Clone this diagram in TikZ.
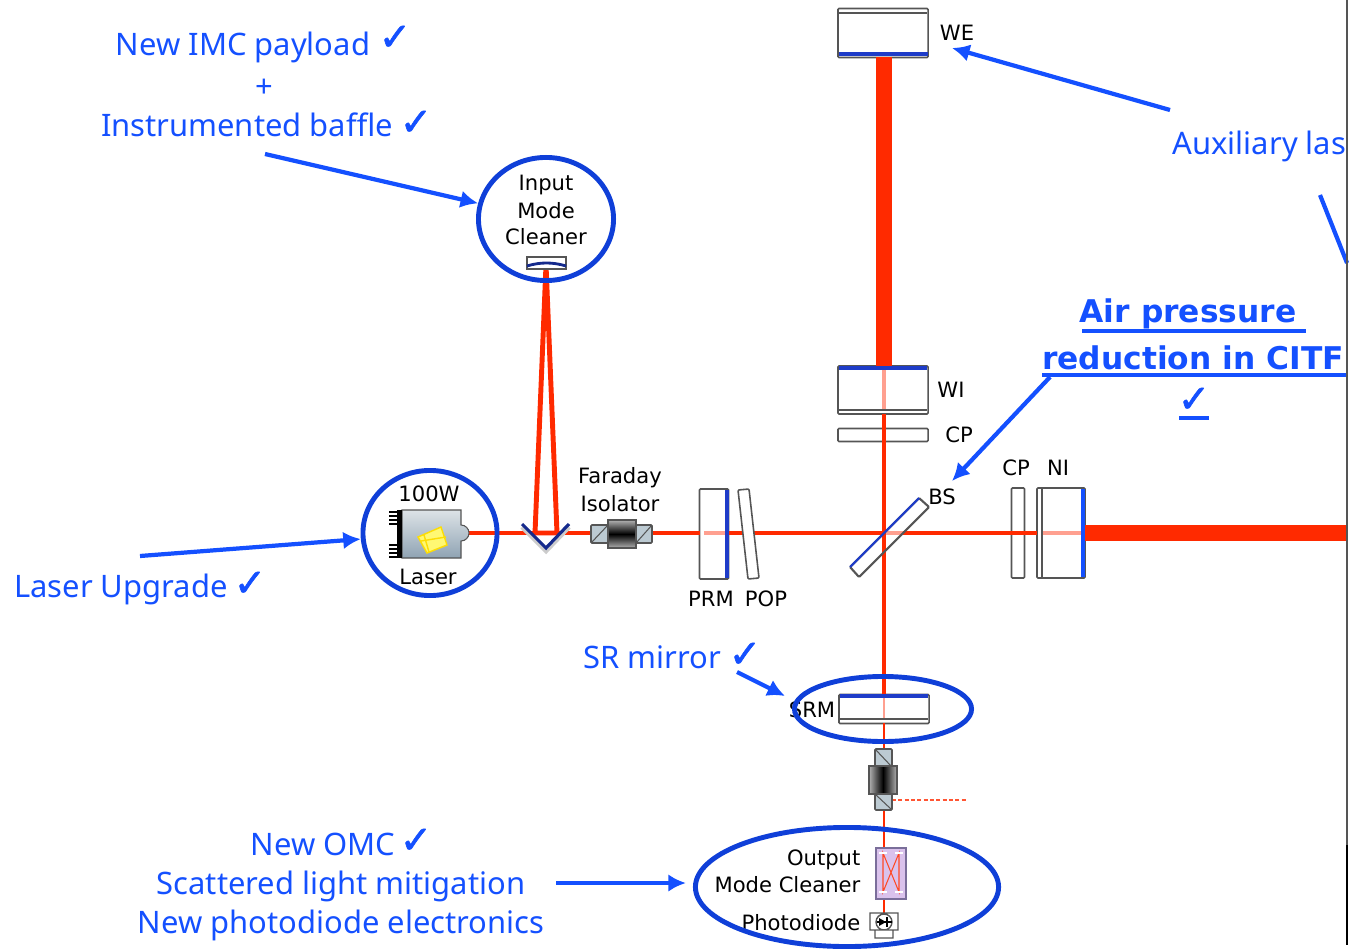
\documentclass[tikz,border=0pt]{standalone}
\usepackage{fontspec}
\setmainfont{DejaVu Sans}
\newfontfamily\bluefont{Noto Sans}
\newfontfamily\tickfont[FakeBold=1.6]{DejaVu Sans}
\usetikzlibrary{arrows.meta,shapes.geometric}
\definecolor{callblue}{HTML}{1450FF}
\definecolor{ringblue}{HTML}{0F3FD8}
\definecolor{coatblue}{HTML}{1E3CC8}
\definecolor{beamred}{HTML}{FF2A00}
\definecolor{palered}{HTML}{FFA090}
\definecolor{edgegray}{HTML}{555555}
\definecolor{prismgray}{HTML}{BCCAD2}
\definecolor{lasertop}{HTML}{DDE3E7}
\definecolor{laserbot}{HTML}{8FA3B3}
\definecolor{cleanerfill}{HTML}{DAC2EC}
\definecolor{cleaneredge}{HTML}{7A6E9A}
\tikzset{
ring/.style={draw=ringblue,line width=1.4pt,ellipse,inner sep=0pt},
call/.style={text=callblue,font=\bluefont\fontsize{8.8}{11}\selectfont,inner sep=0pt},
callbold/.style={call,font=\bfseries\fontsize{8.9}{11}\selectfont},
tick/.style={text=callblue,font=\tickfont\fontsize{11}{12}\selectfont,inner sep=0pt},
rulingline/.style={draw=callblue,line width=.95pt},
lab/.style={text=black,font=\fontsize{6}{7}\selectfont,inner sep=0pt},
callout/.style={draw=callblue,line width=1.2pt,-{Latex[length=5pt,width=5pt]}},
optic/.style={draw=edgegray,line width=.45pt,rounded corners=.3pt,fill=white,inner sep=0pt},
beam/.style={draw=beamred,line width=1.4pt},
coat/.style={draw=coatblue,line width=1.2pt},
}
\begin{document}
\begin{tikzpicture}[x=.01cm,y=-.01cm]
\useasboundingbox (0,0) rectangle (1349,949);
\clip (0,0) rectangle (1349,949);
%beams
\coordinate (laserout) at (465,533);
\coordinate (darkend) at (1347,533);
\coordinate (pdin) at (884,915);
\coordinate (pickoff) at (967,800);
\node[optic,minimum width=.9cm,minimum height=.49cm] (we) at (883,33) {};
\node[optic,minimum width=.9cm,minimum height=.48cm] (wi) at (883,390) {};
\node[optic,minimum width=.9cm,minimum height=.13cm] (cpw) at (883,435) {};
\node[optic,minimum width=.9cm,minimum height=.29cm] (srm) at (884,709) {};
\node[optic,minimum width=.48cm,minimum height=.9cm] (ni) at (1061,533) {};
\node[optic,minimum width=.13cm,minimum height=.9cm] (cpn) at (1018,533) {};
\node[optic,minimum width=.29cm,minimum height=.9cm] (prm) at (714,534) {};
\draw[beamred,line width=4.8pt] (884,57) -- (884,366);
\draw[beamred,line width=4.8pt] (1085,533) -- (darkend);
\draw[beam] (884,414) -- (884,676);
\draw[beam,line width=1.2pt] (laserout) -- (700,533);
\draw[beam] (729,533) -- (1037,533);
\draw[beam] (884,672) -- (884,695);
\draw[beam,line width=.6pt] (884,723) -- (884,749);
\draw[beam,line width=.6pt] (884,810) -- (pdin);
\draw[beam] (546,265) -- (535,533) -- (557,533) -- cycle;
\draw[beamred!80,line width=.5pt,dash pattern=on 1.1pt off .7pt] (892,800) -- (pickoff);
\draw[palered,line width=1.2pt] (884,368) -- (884,410);
\draw[palered,line width=1.2pt] (704,533) -- (727,533);
\draw[palered,line width=1.2pt] (1042,533) -- (1082,533);
\draw[palered,line width=1.2pt] (886,533) -- (903,533);
\draw[palered,line width=.8pt] (884,696) -- (884,719);
%mirrors
\draw[coat] (839,54) -- (928,54);
\draw[edgegray,line width=.4pt] (839,13) -- (927,13) (839,410) -- (927,410) (840,719) -- (928,719) (1042,489) -- (1042,577);
\draw[coat] (839,368) -- (927,368);
\draw[coat] (840,696) -- (928,696);
\draw[coat,draw=callblue,line width=1.4pt] (1083,489) -- (1083,577);
\draw[coat] (727,490) -- (727,578);
\draw[optic] (738,490) -- (749,489) -- (759,578) -- (748,579) -- cycle;
\draw[optic,fill=none,line width=.6pt] (919,498) -- (929,507) -- (859,577) -- (850,567) -- cycle;
\draw[coat,line width=.6pt] (919,498) -- (850,567);
%laser
\draw[edgegray,line width=.3pt,top color=lasertop,bottom color=laserbot] (402,510) -- (461,510) -- (461,525) arc (-90:90:8) -- (461,558) -- (402,558) -- cycle;
\fill[black] (397,510) rectangle (402,558);
\foreach \y in {511,515,519,523,544,548,552,556} {\fill[black] (389,\y) rectangle (398,\y+2.4);}
\draw[yellow!80!orange,fill=yellow!55,line width=.4pt] (418,537) -- (441,527) -- (447,545) -- (427,553) -- cycle (424,535) -- (429,552) (421,541) -- (446,537);
%input mirror
\draw[gray!40,line width=1.3pt] (522,527) -- (546,551) -- (569,527);
\draw[coatblue!70!black,line width=.9pt] (522,524) -- (546,548) -- (569,524);
%isolators
\draw[optic,fill=prismgray] (591,525) rectangle (608,543);
\draw[optic,fill=prismgray] (636,525) rectangle (652,543);
\draw[edgegray,line width=.3pt] (591,543) -- (608,525) (636,543) -- (652,525);
\draw[edgegray,line width=.3pt,top color=gray!60,bottom color=gray!60,middle color=black] (608,520) rectangle (636,548);
\draw[optic,fill=prismgray] (875,749) rectangle (892,767);
\draw[optic,fill=prismgray] (875,794) rectangle (892,810);
\draw[edgegray,line width=.3pt] (875,749) -- (892,767) (875,794) -- (892,810);
\draw[edgegray,line width=.3pt,left color=gray!60,right color=gray!60,middle color=black] (869,766) rectangle (897,794);
%output cleaner and photodiode
\draw[draw=cleaneredge,fill=cleanerfill,line width=.4pt] (876,848) rectangle (906,899);
\draw[beamred!85,line width=.3pt] (883,853) -- (883,892) -- (899,853) -- (899,892) -- cycle;
\draw[white,line width=.5pt] (879,853) -- (887,853) (895,853) -- (903,853) (879,892) -- (887,892) (895,892) -- (903,892);
\draw[edgegray,line width=.4pt] (870,913) rectangle (898,930) (875,930) rectangle (893,938) (884,922) circle (8);
\fill[black] (879,918) -- (886,922) -- (879,926) -- cycle;
\draw[black,line width=.3pt] (877,922) -- (892,922) (887,917) -- (887,927);
%black labels
\node[lab] (welab) at (957,33) {WE};
\node[lab] (wilab) at (951,390) {WI};
\node[lab] (cpwlab) at (959,435) {CP};
\node[lab] (cpnlab) at (1016,468) {CP};
\node[lab] (nilab) at (1058,468) {NI};
\node[lab] (bslab) at (942,497) {BS};
\node[lab] (prmlab) at (711,599) {PRM};
\node[lab] (poplab) at (766,599) {POP};
\node[lab] (faraday) at (620,478) {Faraday};
\node[lab] (isolator) at (620,504) {Isolator};
\node[lab] (power) at (429,494) {100W};
\node[lab] (laser) at (428,577) {Laser};
\node[lab] (imcone) at (546,185) {Input};
\node[lab] (imctwo) at (546,211) {Mode};
\node[lab] (imcthree) at (546,237) {Cleaner};
\node[lab] (srmlab) at (812,710) {SRM};
\node[lab,anchor=east] (omcone) at (861,860) {Output};
\node[lab,anchor=east] (omctwo) at (861,885) {Mode Cleaner};
\node[lab,anchor=east] (pdlab) at (861,923) {Photodiode};
%cleaner mirror
\draw[edgegray,line width=.45pt,fill=white] (527,257) rectangle (566,269);
\draw[coatblue!70!black,line width=.8pt] (527,266) .. controls (540,262) and (553,262) .. (566,266);
%rings
\node[ring,minimum width=1.35cm,minimum height=1.23cm] (imcring) at (546,219) {};
\node[ring,minimum width=1.34cm,minimum height=1.25cm] (laserring) at (430,533) {};
\node[ring,minimum width=1.77cm,minimum height=.65cm] (srmring) at (883,709) {};
\node[ring,minimum width=3.03cm,minimum height=1.19cm] (omcring) at (847,887) {};
%blue labels
\node[call] (imclab) at (243,47) {New IMC payload};
\node[tick] (imctick) at (395,38) {✓};
\node[call] (pluslab) at (264,88) {+};
\node[call] (bafflelab) at (247,125) {Instrumented baffle};
\node[tick] (baffletick) at (416,123) {✓};
\node[call,anchor=west] (auxlab) at (1172,146) {Auxiliary las};
\node[callbold] (airlab) at (1188,314) {Air pressure};
\node[callbold] (citflab) at (1193,358) {reduction in CITF};
\node[tick] (airtick) at (1194,400) {✓};
\node[call] (upgradelab) at (121,589) {Laser Upgrade};
\node[tick] (upgradetick) at (250,584) {✓};
\node[call] (srlab) at (652,657) {SR mirror};
\node[tick] (srtick) at (745,655) {✓};
\node[call] (omclab) at (323,844) {New OMC};
\node[tick] (omctick) at (416,841) {✓};
\node[call] (scatlab) at (341,886) {Scattered light mitigation};
\node[call] (pdelec) at (341,925) {New photodiode electronics};
\draw[rulingline] (1082,331) -- (1306,331) (1042,375) -- (1346,375) (1179,418) -- (1209,418);
%callouts
\coordinate (imctail) at (265,154);
\coordinate (lasertail) at (140,556);
\coordinate (srtail) at (737,672);
\coordinate (srend) at (785,696);
\coordinate (omctail) at (556,883);
\coordinate (auxtail) at (1170,110);
\coordinate (auxend) at (952,48);
\coordinate (auxtailb) at (1320,195);
\coordinate (auxendb) at (1347,263);
\coordinate (airtail) at (1050,377);
\coordinate (airend) at (952,481);
\draw[callout] (imctail) -- (imcring.167);
\draw[callout] (lasertail) -- (laserring.185);
\draw[callout] (srtail) -- (srend);
\draw[callout,shorten >=2pt] (omctail) -- (omctail-|omcring.west);
\draw[callout] (auxtail) -- (auxend);
\draw[callout,-] (auxtailb) -- (auxendb);
\draw[callout] (airtail) -- (airend);
%page edge
\draw[edgegray,line width=.55pt] (1347,0) -- (1347,945);
\draw[black,line width=.55pt] (1347,845) -- (1347,945);
\end{tikzpicture}
\end{document}
